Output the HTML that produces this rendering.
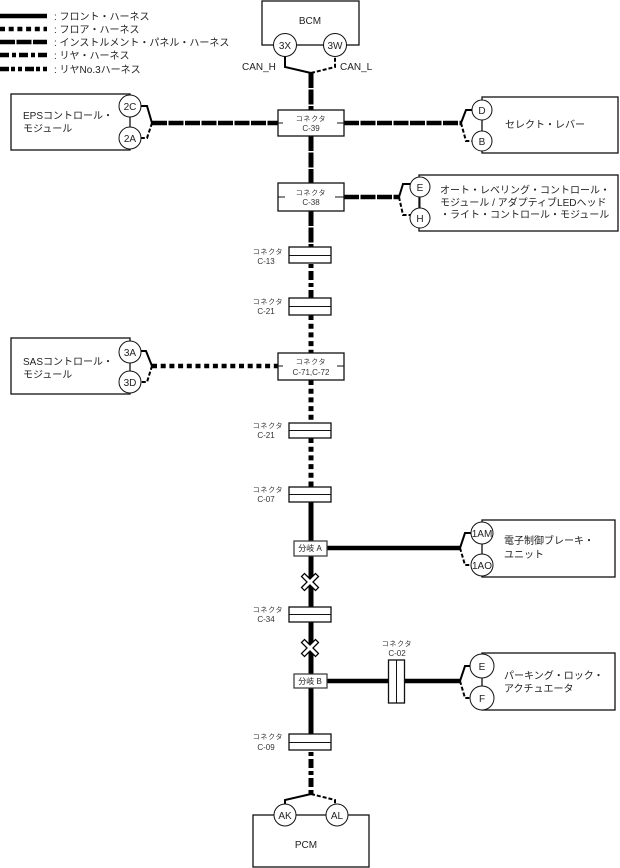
<!DOCTYPE html>
<html lang="ja"><head><meta charset="utf-8">
<style>
html,body{margin:0;padding:0;background:#fff}
svg{display:block}
text{font-family:"Liberation Sans","Noto Sans CJK JP",sans-serif;fill:#222}
.t{font-size:10px}
.s{font-size:7px;fill:#333;text-anchor:middle;letter-spacing:.7px}
.l{font-size:8px;fill:#333;text-anchor:middle}
.b{fill:#fff;stroke:#111;stroke-width:1.3}
.c{fill:#fff;stroke:#111;stroke-width:1}
.n{font-size:10px;text-anchor:middle}
.solid,.ip,.fl,.rr,.r3{fill:none;stroke:#000;stroke-width:4.5}
.tr{stroke-width:5}
.ip{stroke-dasharray:15 1.5}
.fl{stroke-dasharray:5 3.7}
.rr{stroke-dasharray:9 3 4 3;stroke-dashoffset:12}
.r3{stroke-dasharray:9 2 4 3 4 3}
.w{fill:none;stroke:#000;stroke-width:2}
.d{fill:none;stroke:#000;stroke-width:2;stroke-dasharray:4 2}
.thin{stroke:#111;stroke-width:1}
</style></head><body>
<svg width="620" height="868" viewBox="0 0 620 868" xmlns="http://www.w3.org/2000/svg">
<!-- legend -->
<path class="solid" d="M0 16H47"/><path class="fl" d="M0 29H47"/><path class="ip" d="M0 42H47"/><path class="rr" style="stroke-dashoffset:0" d="M0 55H47"/><path class="r3" d="M0 69H47"/>
<text class="t" x="54" y="20">: フロント・ハーネス</text>
<text class="t" x="54" y="33">: フロア・ハーネス</text>
<text class="t" x="54" y="46">: インストルメント・パネル・ハーネス</text>
<text class="t" x="54" y="59">: リヤ・ハーネス</text>
<text class="t" x="54" y="73">: リヤNo.3ハーネス</text>

<!-- trunk -->
<path class="ip tr" d="M311 73V110M311 136V183M311 211V247"/>
<path class="rr tr" d="M311 264V298"/>
<path class="fl tr" d="M311 315V353M311 380V423M311 438V487"/>
<path class="solid tr" d="M311 502V541M311 556V607M311 622V674M311 688V734"/>
<path class="rr tr" d="M311 752V794"/>

<!-- branches -->
<path class="ip" d="M152 123H278M344 123H461M344 197H399"/>
<path class="fl" d="M152 366H278"/>
<path class="solid" d="M327 548H460M327 681H460"/>

<!-- BCM -->
<rect class="b" x="262" y="1" width="97" height="44"/>
<text class="n" x="310" y="24">BCM</text>
<path class="w" d="M285 56V67L311 73"/><path class="d" d="M311 73L335 67V56"/>
<circle class="c" cx="285" cy="45" r="11.5"/><circle class="c" cx="335" cy="45" r="11.5"/>
<text class="n" x="285" y="49">3X</text><text class="n" x="335" y="49">3W</text>
<text class="t" x="242" y="70">CAN_H</text><text class="t" x="340" y="70">CAN_L</text>

<!-- C-39 -->
<rect class="b" x="278" y="110" width="66" height="26"/>
<path class="thin" d="M278 123H283M337 123H344"/>
<text class="s" x="311" y="121">コネクタ</text><text class="l" x="311" y="131">C-39</text>

<!-- EPS -->
<rect class="b" x="11" y="94" width="119" height="56"/>
<path class="thin" d="M130 106V138"/>
<path class="w" d="M141 106H147L152 123"/><path class="d" d="M152 123L147 138H141"/>
<circle class="c" cx="130" cy="106" r="11"/><circle class="c" cx="130" cy="138" r="11"/>
<text class="n" x="130" y="110">2C</text><text class="n" x="130" y="142">2A</text>
<text class="t" x="23" y="119">EPSコントロール・</text><text class="t" x="23" y="132">モジュール</text>

<!-- Select -->
<rect class="b" x="482" y="97" width="136" height="56"/>
<path class="thin" d="M482 110V141"/>
<path class="w" d="M461 123L466 110H472"/><path class="d" d="M461 123L466 141H472"/>
<circle class="c" cx="482" cy="110" r="10"/><circle class="c" cx="482" cy="141" r="10"/>
<text class="n" x="482" y="114">D</text><text class="n" x="482" y="145">B</text>
<text class="t" x="505" y="128">セレクト・レバー</text>

<!-- C-38 -->
<rect class="b" x="278" y="183" width="66" height="28"/>
<path class="thin" d="M278 197H285M335 197H344"/>
<text class="s" x="311" y="195">コネクタ</text><text class="l" x="311" y="205">C-38</text>

<!-- Auto -->
<rect class="b" x="419" y="175" width="199" height="56"/>
<path class="thin" d="M420 187V218"/>
<path class="w" d="M399 197L403 184H411"/><path class="d" d="M399 197L403 215H411"/>
<circle class="c" cx="420" cy="187" r="10"/><circle class="c" cx="420" cy="218" r="10"/>
<text class="n" x="420" y="191">E</text><text class="n" x="420" y="222">H</text>
<text class="t" x="440" y="193.500">オート・レベリング・コントロール・</text>
<text class="t" x="440" y="206">モジュール / アダプティブLEDヘッド</text>
<text class="t" x="440" y="218">・ライト・コントロール・モジュール</text>

<!-- small connectors -->
<g class="b">
<rect x="289" y="247" width="42" height="16"/><rect x="289" y="298" width="42" height="17"/>
<rect x="289" y="423" width="42" height="15"/><rect x="289" y="487" width="42" height="15"/>
<rect x="289" y="607" width="42" height="15"/><rect x="289" y="734" width="42" height="16"/>
</g>
<path class="thin" d="M289 255.500H331M289 306.500H331M289 430.500H331M289 494.500H331M289 614.500H331M289 742.500H331"/>
<text class="s" x="268" y="254">コネクタ</text><text class="l" x="266" y="264">C-13</text>
<text class="s" x="268" y="304">コネクタ</text><text class="l" x="266" y="314">C-21</text>
<text class="s" x="268" y="428">コネクタ</text><text class="l" x="266" y="438">C-21</text>
<text class="s" x="268" y="492">コネクタ</text><text class="l" x="266" y="502">C-07</text>
<text class="s" x="268" y="612">コネクタ</text><text class="l" x="266" y="622">C-34</text>
<text class="s" x="268" y="739">コネクタ</text><text class="l" x="266" y="750">C-09</text>

<!-- SAS -->
<rect class="b" x="11" y="338" width="119" height="56"/>
<path class="thin" d="M130 352V382"/>
<path class="w" d="M141 351H146L152 366"/><path class="d" d="M152 366L147 382H141"/>
<circle class="c" cx="130" cy="352" r="11"/><circle class="c" cx="130" cy="382" r="11"/>
<text class="n" x="130" y="356">3A</text><text class="n" x="130" y="386">3D</text>
<text class="t" x="23" y="365">SASコントロール・</text><text class="t" x="23" y="378">モジュール</text>

<!-- C-71 -->
<rect class="b" x="278" y="353" width="66" height="27"/>
<path class="thin" d="M278 366H283M337 366H344"/>
<text class="s" x="311" y="364">コネクタ</text><text class="l" x="311" y="375">C-71,C-72</text>

<!-- branch A -->
<rect x="294" y="541" width="33" height="15" fill="#fff" stroke="#333" stroke-width="1.200"/>
<text x="310" y="551" text-anchor="middle" style="font-size:8px">分岐 A</text>
<rect class="b" x="482" y="520" width="133" height="57"/>
<path class="thin" d="M482 533V565"/>
<path class="w" d="M460 548L465 533H472"/><path class="d" d="M460 548L465 565H472"/>
<circle class="c" cx="482" cy="533" r="11"/><circle class="c" cx="482" cy="565" r="11"/>
<text class="n" x="482" y="537">1AM</text><text class="n" x="482" y="569">1AO</text>
<text class="t" x="504" y="544">電子制御ブレーキ・</text><text class="t" x="504" y="558">ユニット</text>

<!-- X marks -->
<g fill="none" stroke-linecap="square">
<path d="M304.500 576.500L315.500 587.500M315.500 576.500L304.500 587.500M304.500 642.500L315.500 653.500M315.500 642.500L304.500 653.500" stroke="#000" stroke-width="5.500"/>
<path d="M304.500 576.500L315.500 587.500M315.500 576.500L304.500 587.500M304.500 642.500L315.500 653.500M315.500 642.500L304.500 653.500" stroke="#fff" stroke-width="3"/>
</g>

<!-- branch B -->
<rect x="294" y="674" width="33" height="14" fill="#fff" stroke="#333" stroke-width="1.200"/>
<text x="310" y="684" style="font-size:8px" text-anchor="middle">分岐 B</text>
<rect class="b" x="388.500" y="660" width="16" height="43"/>
<path class="thin" d="M396.500 660V703"/>
<text class="s" x="397" y="646">コネクタ</text><text class="l" x="397" y="656">C-02</text>
<rect class="b" x="482" y="653" width="133" height="57"/>
<path class="thin" d="M482 666V698"/>
<path class="w" d="M460 681L465 666H472"/><path class="d" d="M460 681L465 698H472"/>
<circle class="c" cx="482" cy="666" r="12"/><circle class="c" cx="482" cy="698" r="12"/>
<text class="n" x="482" y="670">E</text><text class="n" x="482" y="702">F</text>
<text class="t" x="504" y="679">パーキング・ロック・</text><text class="t" x="504" y="692">アクチュエータ</text>

<!-- PCM -->
<rect class="b" x="253" y="815" width="116" height="52"/>
<text class="n" x="306" y="848">PCM</text>
<path class="w" d="M311 794L285 800V804"/><path class="d" d="M311 794L335 800V804"/>
<circle class="c" cx="285" cy="815" r="11"/><circle class="c" cx="337" cy="815" r="11"/>
<text class="n" x="285" y="819">AK</text><text class="n" x="337" y="819">AL</text>
</svg>
</body></html>
